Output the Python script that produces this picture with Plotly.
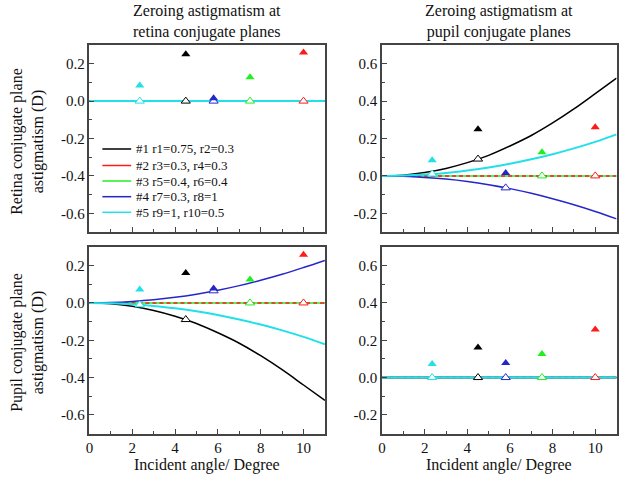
import plotly.graph_objects as go

# ---------------- data ----------------
series_names = ["#1 r1=0.75, r2=0.3", "#2 r3=0.3, r4=0.3", "#3 r5=0.4, r6=0.4",
                "#4 r7=0.3, r8=1", "#5 r9=1, r10=0.5"]
series_colors = ["#000000", "#ff1a1a", "#22ee22", "#2626c8", "#22e0e8"]

# curve sample angles (degree)
curve_x = [0, 1, 2, 3, 4, 5, 6, 7, 8, 9, 10, 11]
zeros = [0, 0, 0, 0, 0, 0, 0, 0, 0, 0, 0, 0]

# top-right panel (retina astig., zeroing at pupil planes)
tr_black = [0, 0.004, 0.018, 0.040, 0.071, 0.110, 0.160, 0.216, 0.283, 0.358, 0.440, 0.523]
tr_cyan = [0, 0.002, 0.007, 0.016, 0.029, 0.045, 0.065, 0.089, 0.116, 0.147, 0.182, 0.222]
tr_blue = [0, -0.002, -0.008, -0.017, -0.030, -0.047, -0.068, -0.093, -0.122, -0.154, -0.190, -0.230]
# bottom-left panel (pupil astig., zeroing at retina planes)
bl_black = [0, -0.004, -0.018, -0.040, -0.071, -0.110, -0.160, -0.216, -0.283, -0.358, -0.440, -0.523]
bl_cyan = [0, -0.002, -0.007, -0.016, -0.029, -0.045, -0.065, -0.089, -0.116, -0.147, -0.182, -0.222]
bl_blue = [0, 0.002, 0.008, 0.017, 0.030, 0.047, 0.068, 0.093, 0.122, 0.154, 0.190, 0.228]

# marker angles for series #1..#5
marker_x = [4.5, 10, 7.5, 5.8, 2.35]
retina_filled = [0.25, 0.26, 0.127, 0.015, 0.084]
pupil_filled = [0.161, 0.258, 0.126, 0.078, 0.072]
tl_hollow = [0, 0, 0, 0, 0]
tr_hollow = [0.09, 0, 0, -0.064, 0.01]
bl_hollow = [-0.089, 0, 0, 0.065, -0.01]
br_hollow = [0, 0, 0, 0, 0]

x_tickvals = [0, 2, 4, 6, 8, 10]
x_ticktext = ["0", "2", "4", "6", "8", "10"]
ret_tickvals = [-0.6, -0.4, -0.2, 0.0, 0.2]
ret_ticktext = ["-0.6", "-0.4", "-0.2", "0.0", "0.2"]
pup_tickvals = [-0.2, 0.0, 0.2, 0.4, 0.6]
pup_ticktext = ["-0.2", "0.0", "0.2", "0.4", "0.6"]

panel_titles = ["Zeroing astigmatism at<br>retina conjugate planes",
                "Zeroing astigmatism at<br>pupil conjugate planes"]
row_titles = ["Retina conjugate plane<br>astigmatism (D)",
              "Pupil conjugate plane<br>astigmatism (D)"]
x_title = "Incident angle/ Degree"

FONT = "Liberation Serif, Times New Roman, serif"

fig = go.Figure()

panels = [
    ("x", "y", [zeros, zeros, zeros, zeros, zeros], tl_hollow, retina_filled),
    ("x2", "y2", [tr_black, zeros, zeros, tr_blue, tr_cyan], tr_hollow, retina_filled),
    ("x3", "y3", [bl_black, zeros, zeros, bl_blue, bl_cyan], bl_hollow, pupil_filled),
    ("x4", "y4", [zeros, zeros, zeros, zeros, zeros], br_hollow, pupil_filled),
]

draw_order = [0, 2, 1, 3, 4]  # black, green, red (dashed), blue, cyan
for xa, ya, curves, hollow, filled in panels:
    for i in draw_order:
        fig.add_trace(go.Scatter(
            x=curve_x, y=curves[i], mode="lines", xaxis=xa, yaxis=ya,
            line=dict(color=series_colors[i], width=2 if i == 4 else 1.5,
                      shape="spline",
                      dash="4px,3px" if i == 1 else "solid"),
            showlegend=False, hoverinfo="skip"))
    for i in range(5):
        fig.add_trace(go.Scatter(
            x=[marker_x[i]], y=[hollow[i]], mode="markers", xaxis=xa, yaxis=ya,
            marker=dict(symbol="triangle-up", size=8, color="white",
                        line=dict(color=series_colors[i], width=1)),
            showlegend=False))
    for i in range(5):
        fig.add_trace(go.Scatter(
            x=[marker_x[i]], y=[filled[i]], mode="markers", xaxis=xa, yaxis=ya,
            marker=dict(symbol="triangle-up", size=8, color=series_colors[i],
                        line=dict(width=0)),
            showlegend=False))

W, H = 624, 479
xdom_l = [86 / W, 323 / W]
xdom_r = [380.5 / W, 616.5 / W]
ydom_t = [1 - 232 / H, 1 - 45 / H]
ydom_b = [1 - 433.5 / H, 1 - 247 / H]

axis_common = dict(showline=True, linecolor="#444", linewidth=1.5, mirror=True,
                   showgrid=False, zeroline=False, ticks="inside", ticklen=5,
                   tickwidth=1, tickcolor="#444",
                   tickfont=dict(family=FONT, size=15, color="#111"))

def xaxis(dom, anchor, labels):
    return dict(domain=dom, anchor=anchor, range=[0, 11], tickmode="array",
                tickvals=x_tickvals, ticktext=x_ticktext, showticklabels=labels,
                minor=dict(ticks="inside", ticklen=3, dtick=1, tick0=0,
                           tickcolor="#444"),
                **axis_common)

def yaxis(dom, anchor, rng, tv, tt):
    return dict(domain=dom, anchor=anchor, range=rng, tickmode="array",
                tickvals=tv, ticktext=tt,
                minor=dict(ticks="inside", ticklen=3, dtick=0.1, tick0=0,
                           tickcolor="#444"),
                **axis_common)

fig.update_layout(
    width=W, height=H, margin=dict(l=0, r=0, t=0, b=0),
    font=dict(family=FONT, color="#111"),
    paper_bgcolor="white", plot_bgcolor="white", showlegend=False,
    xaxis=xaxis(xdom_l, "y", False),
    yaxis=yaxis(ydom_t, "x", [-0.7, 0.3], ret_tickvals, ret_ticktext),
    xaxis2=xaxis(xdom_r, "y2", False),
    yaxis2=yaxis(ydom_t, "x2", [-0.3, 0.7], pup_tickvals, pup_ticktext),
    xaxis3=xaxis(xdom_l, "y3", True),
    yaxis3=yaxis(ydom_b, "x3", [-0.7, 0.3], ret_tickvals, ret_ticktext),
    xaxis4=xaxis(xdom_r, "y4", True),
    yaxis4=yaxis(ydom_b, "x4", [-0.3, 0.7], pup_tickvals, pup_ticktext),
)

ann = []
for cx, t in zip([(86 + 323) / 2 / W, (380.5 + 616.5) / 2 / W], panel_titles):
    ann.append(dict(x=cx, y=1 - 22 / H, xref="paper", yref="paper", text=t,
                    showarrow=False, xanchor="center", yanchor="middle",
                    font=dict(family=FONT, size=16, color="#111")))
    ann.append(dict(x=cx, y=1 - 465 / H, xref="paper", yref="paper", text=x_title,
                    showarrow=False, xanchor="center", yanchor="middle",
                    font=dict(family=FONT, size=16, color="#111")))
for cy, t in zip([1 - 141 / H, 1 - 342 / H], row_titles):
    ann.append(dict(x=23 / W, y=cy, xref="paper", yref="paper", text=t,
                    showarrow=False, xanchor="center", yanchor="middle",
                    textangle=-90, font=dict(family=FONT, size=16, color="#111")))

legend_rows = [149, 165.5, 181, 196.7, 212.3]
shapes = []
for i, ry in enumerate(legend_rows):
    yp = 1 - ry / H
    shapes.append(dict(type="line", xref="paper", yref="paper",
                       x0=99 / W, x1=128 / W, y0=yp, y1=yp,
                       line=dict(color=series_colors[i], width=1.5)))
    ann.append(dict(x=130.5 / W, y=yp, xref="paper", yref="paper",
                    text=series_names[i], showarrow=False, xanchor="left",
                    yanchor="middle", font=dict(family=FONT, size=13, color="#111")))

fig.update_layout(annotations=ann, shapes=shapes)
fig.write_html("out.html", config={"displayModeBar": False},
               post_script="document.body.style.margin='0';document.body.style.padding='0';")
